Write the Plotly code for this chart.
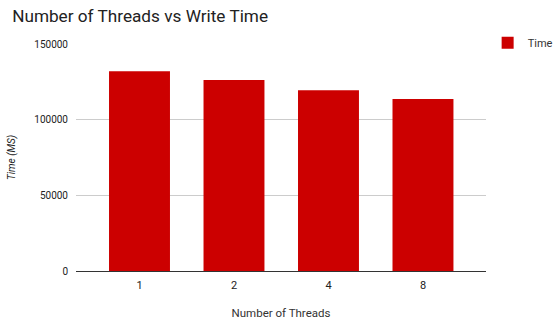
import plotly.graph_objects as go

threads = ["1", "2", "4", "8"]
write_time = [132000, 126200, 119400, 113700]
y_ticks = [0, 50000, 100000, 150000]

fig = go.Figure()
fig.add_trace(go.Bar(
    x=threads, y=write_time, name="Time",
    marker=dict(color="#cc0000", line=dict(width=0)),
    width=0.645,
))

fig.update_layout(
    width=553, height=327,
    margin=dict(l=76, r=67, t=44, b=56, autoexpand=False),
    paper_bgcolor="white", plot_bgcolor="white",
    font=dict(family="Roboto", size=11, color="#222"),
    title=dict(text="Number of Threads vs Write Time", x=0.022, xanchor="left",
               y=0.952, yanchor="middle",
               font=dict(family="Roboto", size=17.2, color="#222")),
    showlegend=True,
    legend=dict(x=1.004, y=1.005, xanchor="left", yanchor="middle",
                font=dict(size=11, color="#333"), itemwidth=30),
    bargap=0.35,
)
fig.update_xaxes(
    type="category", range=[-0.672, 3.667],
    showgrid=False, showline=False,
    ticks="outside", ticklen=4, tickcolor="rgba(0,0,0,0)",
    title=dict(text="Number of Threads", font=dict(size=11.5, color="#333"), standoff=17),
    tickfont=dict(size=11, color="#222"),
)
fig.update_yaxes(
    range=[0, 150000], tickvals=y_ticks, ticktext=[str(v) for v in y_ticks],
    showgrid=True, gridcolor="#cccccc", gridwidth=1,
    zeroline=True, zerolinecolor="#333333", zerolinewidth=1,
    ticks="outside", ticklen=5, tickcolor="rgba(0,0,0,0)",
    tickfont=dict(size=10, color="#222"),
    title=dict(text="<i>Time (MS)</i>", font=dict(size=10, color="#222"), standoff=16),
)

fig.write_html("out.html")
